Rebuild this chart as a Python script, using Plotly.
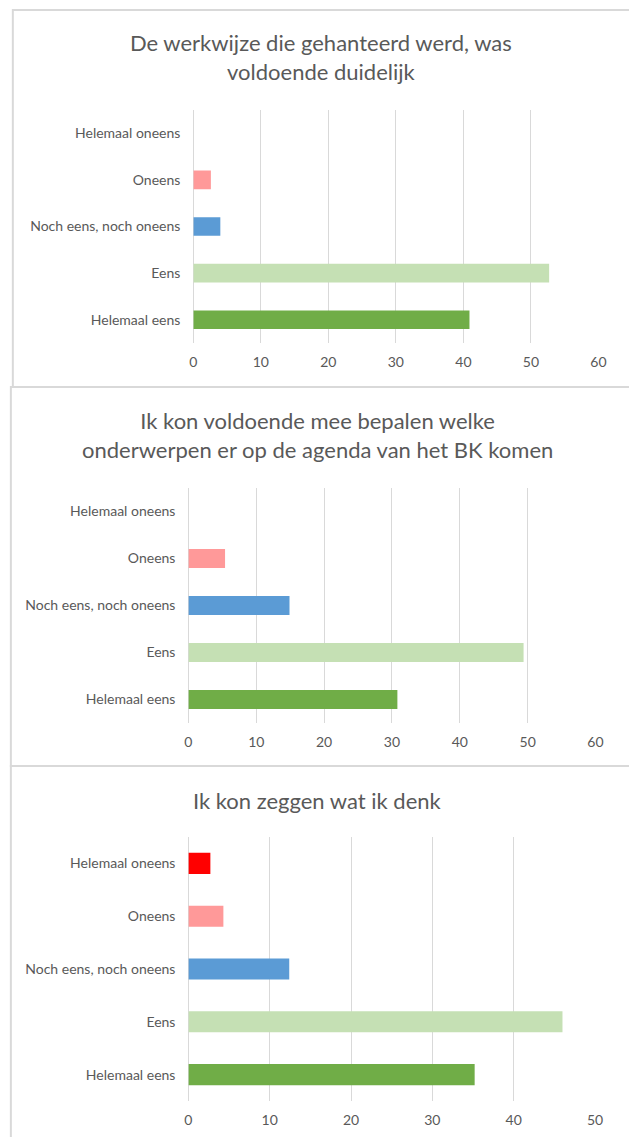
import plotly.graph_objects as go

W, H = 629, 1137

categories = ["Helemaal eens", "Eens", "Noch eens, noch oneens", "Oneens", "Helemaal oneens"]
bar_colors = ["#70AD47", "#C5E0B4", "#5B9BD5", "#FF9999", "#FF0000"]

werkwijze = [40.9, 52.7, 4.0, 2.6, 0]
agenda = [30.8, 49.4, 14.9, 5.4, 0]
zeggen = [35.2, 46.0, 12.4, 4.3, 2.7]

titles = [
    "De werkwijze die gehanteerd werd, was<br>voldoende duidelijk",
    "Ik kon voldoende mee bepalen welke<br>onderwerpen er op de agenda van het BK komen",
    "Ik kon zeggen wat ik denk",
]
x_max = [60, 60, 50]

# pixel boxes of the plot areas (left, right, top, bottom)
plot_boxes = [(193, 606, 110, 343), (188, 603, 488, 723), (188, 602.5, 837, 1101)]
panel_boxes = [(9, 10, 387), (7, 387, 766), (7, 766, 1150)]
title_pos = [(323, 57), (320, 435), (320, 800)]

TXT = "#595959"
GRID = "#D9D9D9"
FONT = "Lato"

fig = go.Figure()

for i, vals in enumerate([werkwijze, agenda, zeggen]):
    n = "" if i == 0 else str(i + 1)
    fig.add_trace(
        go.Bar(
            x=vals,
            y=categories,
            orientation="h",
            marker=dict(color=bar_colors, line=dict(width=0)),
            width=0.4,
            xaxis="x" + n,
            yaxis="y" + n,
            showlegend=False,
        )
    )
    l, r, t, b = plot_boxes[i]
    fig.update_layout(
        {
            "xaxis" + n: dict(
                domain=[l / W, r / W],
                range=[0, x_max[i]],
                dtick=10,
                showgrid=True,
                gridcolor=GRID,
                gridwidth=1,
                zeroline=True,
                zerolinecolor=GRID,
                zerolinewidth=1,
                showline=False,
                anchor="y" + n,
                tickfont=dict(family=FONT, size=14, color=TXT),
                ticklabelstandoff=9,
                fixedrange=True,
            ),
            "yaxis" + n: dict(
                domain=[1 - b / H, 1 - t / H],
                categoryorder="array",
                categoryarray=categories,
                showgrid=False,
                zeroline=False,
                showline=False,
                anchor="x" + n,
                tickfont=dict(family=FONT, size=14, color=TXT),
                ticklabelstandoff=12,
                fixedrange=True,
            ),
        }
    )
    pl, pt, pb = panel_boxes[i]
    fig.add_shape(
        type="rect", xref="paper", yref="paper",
        x0=pl / W, x1=700 / W, y0=1 - pb / H, y1=1 - pt / H,
        line=dict(color=GRID, width=2), layer="below",
    )
    tx, ty = title_pos[i]
    fig.add_annotation(
        text=titles[i], xref="paper", yref="paper",
        x=tx / W, y=1 - ty / H, xanchor="center", yanchor="middle",
        showarrow=False, align="center",
        font=dict(family=FONT, size=22, color=TXT),
    )

fig.update_layout(
    width=W,
    height=H,
    margin=dict(l=0, r=0, t=0, b=0),
    paper_bgcolor="white",
    plot_bgcolor="white",
    bargap=0.6,
)

# drop the default page margin so the figure fills the window exactly
fig.write_html(
    "out.html",
    config={"displayModeBar": False},
    post_script="document.body.style.margin='0';document.body.style.overflow='hidden';",
)
